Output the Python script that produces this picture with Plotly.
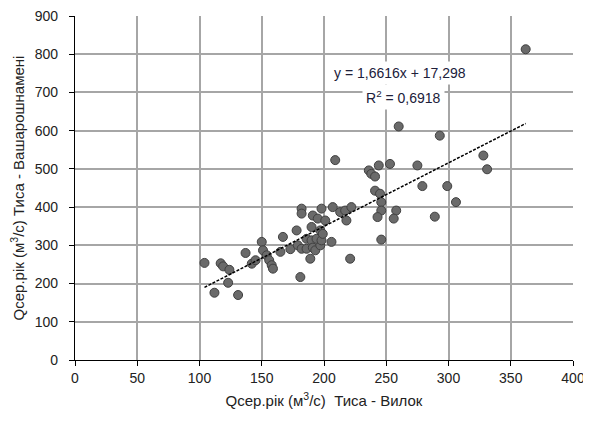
import plotly.graph_objects as go

# Observed points: Q mean annual (m3/s) Tysa - Vylok (x) vs Tysa - Vasarosnameny (y)
x_vylok = [104, 117, 119, 124, 112, 123, 131, 137, 142, 145, 150, 151, 154, 156, 158, 159,
           165, 167, 173, 178, 181, 182, 182, 179, 182, 186, 186, 189, 190, 190, 191, 191,
           193, 197, 194, 195, 197, 198, 198, 199, 201, 206, 207, 209, 213, 217, 218, 221,
           222, 236, 238, 241, 244, 253, 241, 245, 246, 246, 243, 258, 256, 246, 260, 275,
           279, 293, 289, 299, 306, 328, 331, 362]
y_vasar = [254, 253, 245, 236, 176, 202, 170, 280, 252, 261, 309, 287, 274, 261, 248, 239,
           283, 322, 290, 339, 217, 396, 383, 300, 291, 291, 317, 265, 313, 348, 378, 294,
           287, 300, 317, 370, 339, 396, 313, 330, 365, 309, 400, 523, 387, 391, 365, 265,
           400, 496, 487, 480, 509, 513, 443, 435, 413, 391, 374, 391, 370, 315, 611, 509,
           455, 587, 375, 455, 413, 535, 499, 813]

# Linear trend reported on the chart
slope = 1.6616
intercept = 17.298
r2 = 0.6918

x_ticks = [0, 50, 100, 150, 200, 250, 300, 350, 400]
y_ticks = [0, 100, 200, 300, 400, 500, 600, 700, 800, 900]

xmin, xmax = min(x_vylok), max(x_vylok)
trend_x = [xmin, xmax]
trend_y = [slope * v + intercept for v in trend_x]

fig = go.Figure()
fig.add_trace(go.Scatter(
    x=x_vylok, y=y_vasar, mode="markers",
    marker=dict(size=9, color="#6a6a6a", line=dict(color="#404040", width=1)),
    showlegend=False, cliponaxis=False))
fig.add_trace(go.Scatter(
    x=trend_x, y=trend_y, mode="lines",
    line=dict(color="black", width=1.5, dash="3px,1.5px"),
    showlegend=False))

font_family = "Liberation Sans, Arial, sans-serif"
txt_color = "#222222"

fig.add_annotation(
    x=261, y=751, xref="x", yref="y",
    text="y = 1,6616x + 17,298",
    showarrow=False, align="center", bgcolor="white",
    font=dict(family=font_family, size=14, color="#20203a"),
    borderpad=3)
fig.add_annotation(
    x=264, y=689, xref="x", yref="y",
    text="R<sup>2</sup> = 0,6918",
    showarrow=False, align="center", bgcolor="white",
    font=dict(family=font_family, size=14, color="#20203a"),
    borderpad=3)

# page body adds an 8px offset, so the figure is 8px smaller than the window
fig.update_layout(
    width=583, height=420,
    margin=dict(l=67, r=18, t=8, b=68),
    paper_bgcolor="white", plot_bgcolor="white",
    font=dict(family=font_family, size=14, color=txt_color),
    xaxis=dict(
        range=[0, 400], tickvals=x_ticks, ticktext=[str(v) for v in x_ticks],
        showgrid=True, gridcolor="#a6a6a6", gridwidth=1.5,
        showline=True, linecolor="black", linewidth=1.2,
        ticks="outside", ticklen=5, tickcolor="black",
        tickfont=dict(size=14, color=txt_color),
        ticklabeloverflow="allow",
        zeroline=False, automargin=False,
        title=dict(text="Qсер.рік (м<sup>3</sup>/с)  Тиса - Вилок", standoff=10,
                   font=dict(size=15, color=txt_color))),
    yaxis=dict(
        range=[0, 900], tickvals=y_ticks, ticktext=[str(v) for v in y_ticks],
        showgrid=True, gridcolor="#a6a6a6", gridwidth=1.5,
        showline=True, linecolor="black", linewidth=1.2,
        ticks="outside", ticklen=5, tickcolor="black",
        tickfont=dict(size=14, color=txt_color),
        ticklabelstandoff=8, ticklabeloverflow="allow",
        zeroline=False, automargin=False,
        title=dict(text="Qсер.рік (м<sup>3</sup>/с) Тиса - Вашарошнамені", standoff=12,
                   font=dict(size=15, color=txt_color))),
)

fig.write_html("out.html")
